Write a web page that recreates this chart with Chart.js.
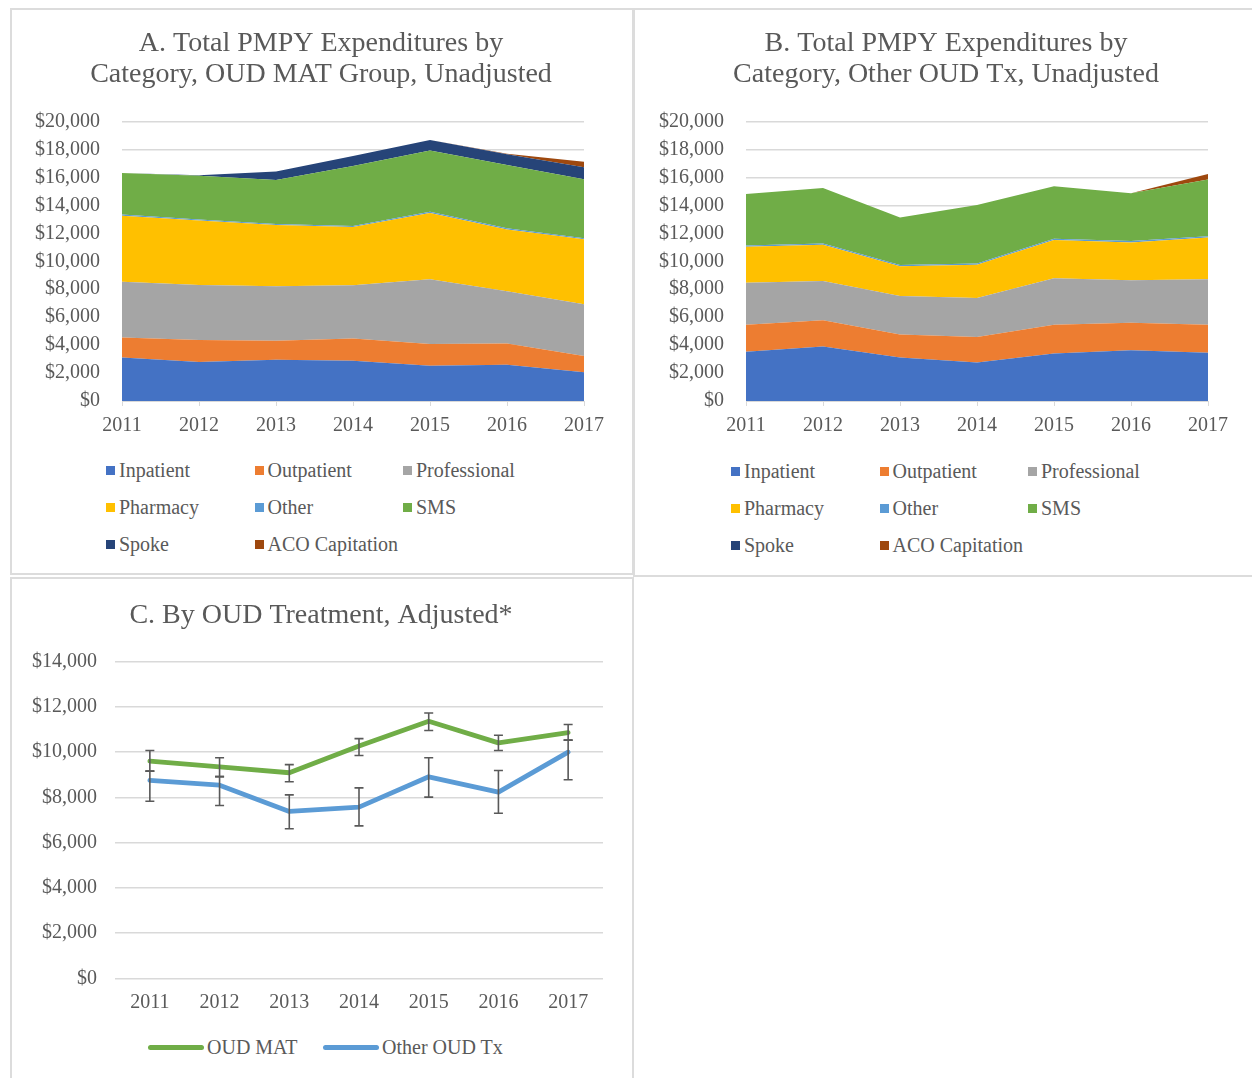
<!DOCTYPE html>
<html><head><meta charset="utf-8">
<script src="https://cdn.jsdelivr.net/npm/chart.js@4.4.1/dist/chart.umd.min.js"></script>
<style>
body{margin:0;background:#fff;width:1252px;height:1078px;overflow:hidden;position:relative;font-family:'Liberation Serif',serif;color:#595959}
.panel{position:absolute;border:2px solid #dcdcdc;box-sizing:border-box;background:#fff}
canvas{position:absolute}
.leg{position:absolute;font-size:20px;line-height:24px;height:24px;white-space:nowrap}
.sq{display:inline-block;width:9px;height:9px;margin-right:4px;vertical-align:middle;position:relative;top:-2px}
.ln{display:inline-block;width:56px;height:5px;border-radius:3px;margin-right:3px;vertical-align:middle;position:relative;top:-2px}
</style></head><body>
<div class="panel" style="left:10px;top:8px;width:624px;height:567px"></div>
<div class="panel" style="left:633px;top:8px;width:625px;height:569px"></div>
<div class="panel" style="left:10px;top:577px;width:624px;height:510px"></div>
<canvas id="cA" width="618" height="440" style="left:12px;top:10px"></canvas>
<canvas id="cB" width="618" height="440" style="left:637px;top:10px"></canvas>
<canvas id="cC" width="618" height="450" style="left:12px;top:579px"></canvas>
<div id="legA"></div><div id="legB"></div><div id="legC"></div>
<script>
// ---- data ----
const years = ['2011','2012','2013','2014','2015','2016','2017'];
const seriesNames = ['Inpatient','Outpatient','Professional','Pharmacy','Other','SMS','Spoke','ACO Capitation'];

const A_inpatient    = [3110, 2800, 2960, 2890, 2530, 2600, 2060];
const A_outpatient   = [1430, 1570, 1360, 1580, 1550, 1510, 1170];
const A_professional = [3990, 3940, 3900, 3820, 4640, 3750, 3700];
const A_pharmacy     = [4730, 4610, 4370, 4160, 4730, 4420, 4640];
const A_other        = [90, 80, 80, 80, 90, 80, 80];
const A_sms          = [2970, 3120, 3150, 4290, 4400, 4530, 4220];
const A_spoke        = [0, 40, 600, 720, 740, 770, 860];
const A_aco          = [0, 0, 0, 0, 0, 30, 400];

const B_inpatient    = [3520, 3900, 3120, 2760, 3400, 3640, 3450];
const B_outpatient   = [1930, 1880, 1640, 1830, 2050, 1970, 2000];
const B_professional = [3020, 2810, 2760, 2780, 3330, 3040, 3260];
const B_pharmacy     = [2570, 2590, 2120, 2380, 2740, 2690, 3000];
const B_other        = [90, 90, 90, 90, 90, 110, 90];
const B_sms          = [3690, 3980, 3410, 4190, 3760, 3430, 4050];
const B_spoke        = [0, 0, 0, 0, 0, 0, 0];
const B_aco          = [0, 0, 0, 0, 0, 0, 400];

const C_names     = ['OUD MAT','Other OUD Tx'];
const C_mat       = [9600, 9350, 9090, 10270, 11370, 10410, 10860];
const C_matHigh   = [10070, 9750, 9450, 10600, 11730, 10750, 11220];
const C_matLow    = [9160, 8920, 8690, 9850, 10960, 10070, 10530];
const C_other     = [8750, 8540, 7380, 7570, 8910, 8230, 10000];
const C_otherHigh = [9160, 8920, 8110, 8420, 9750, 9190, 10530];
const C_otherLow  = [7830, 7640, 6610, 6740, 8010, 7300, 8780];

// ---- styles ----
const colors = ['#4472C4','#ED7D31','#A5A5A5','#FFC000','#5B9BD5','#70AD47','#264478','#9E480E'];
const FONT = "'Liberation Serif', 'DejaVu Serif', serif";
const TXT = '#595959';
const GRID = '#d9d9d9';
const money = v => '$' + Number(v).toLocaleString('en-US');

// invisible right-side spacer axis (keeps the title centred on the panel)
function spacer(w){
  return { type: 'linear', position: 'right', display: true,
    grid: { display: false, drawTicks: false }, border: { display: false },
    ticks: { display: false }, afterFit: s => { s.width = w; } };
}

function areaDatasets(arrs){
  return arrs.map((d,i)=>({
    label: seriesNames[i], data: d,
    backgroundColor: colors[i], borderColor: colors[i], borderWidth: 0,
    pointRadius: 0, fill: i===0 ? 'origin' : '-1', tension: 0
  }));
}

function areaConfig(title, arrs, yW, rW){
  return {
    type: 'line',
    data: { labels: years, datasets: areaDatasets(arrs) },
    options: {
      responsive: false, animation: false,
      layout: { padding: { top: 18, left: 0, right: 0, bottom: 9 } },
      plugins: {
        legend: { display: false }, tooltip: { enabled: false },
        title: { display: true, text: title, color: TXT,
          font: { family: FONT, size: 28, weight: 'normal', lineHeight: 1.1 },
          padding: { top: 0, bottom: 32 } }
      },
      scales: {
        x: { offset: false,
          grid: { display: true, drawOnChartArea: false, drawTicks: true, tickLength: 5, color: GRID },
          border: { display: true, color: GRID, width: 1 },
          ticks: { color: TXT, font: { family: FONT, size: 20 }, padding: 8, maxRotation: 0 },
          afterFit: s => { s.height = 40; } },
        y: { stacked: true, min: 0, max: 20000,
          grid: { color: GRID, lineWidth: 1.5, drawTicks: false },
          border: { display: false },
          ticks: { stepSize: 2000, color: TXT, font: { family: FONT, size: 20 }, padding: 22, callback: money },
          afterFit: s => { s.width = yW; } },
        yr: spacer(rW)
      }
    }
  };
}

const chartA = new Chart(document.getElementById('cA'), areaConfig(
  ['A. Total PMPY Expenditures by','Category, OUD MAT Group, Unadjusted'],
  [A_inpatient, A_outpatient, A_professional, A_pharmacy, A_other, A_sms, A_spoke, A_aco], 110, 46));
const chartB = new Chart(document.getElementById('cB'), areaConfig(
  ['B. Total PMPY Expenditures by','Category, Other OUD Tx, Unadjusted'],
  [B_inpatient, B_outpatient, B_professional, B_pharmacy, B_other, B_sms, B_spoke, B_aco], 109, 47));

const errorBars = {
  id: 'errorBars',
  afterDatasetsDraw(chart){
    const {ctx, scales:{x, y}} = chart;
    ctx.save(); ctx.strokeStyle = '#595959'; ctx.lineWidth = 1.6;
    chart.data.datasets.forEach(ds => {
      if (!ds.errHigh) return;
      ds.data.forEach((v, i) => {
        const px = x.getPixelForValue(i);
        const yh = y.getPixelForValue(ds.errHigh[i]), yl = y.getPixelForValue(ds.errLow[i]);
        ctx.beginPath();
        ctx.moveTo(px, yh); ctx.lineTo(px, yl);
        ctx.moveTo(px-4.5, yh); ctx.lineTo(px+4.5, yh);
        ctx.moveTo(px-4.5, yl); ctx.lineTo(px+4.5, yl);
        ctx.stroke();
      });
    });
    ctx.restore();
  }
};

const chartC = new Chart(document.getElementById('cC'), {
  type: 'line',
  data: { labels: years, datasets: [
    { label: C_names[0], data: C_mat, errHigh: C_matHigh, errLow: C_matLow,
      borderColor: '#70AD47', backgroundColor: '#70AD47', borderWidth: 4.8, pointRadius: 0,
      borderCapStyle: 'round', borderJoinStyle: 'round', tension: 0, fill: false },
    { label: C_names[1], data: C_other, errHigh: C_otherHigh, errLow: C_otherLow,
      borderColor: '#5B9BD5', backgroundColor: '#5B9BD5', borderWidth: 4.8, pointRadius: 0,
      borderCapStyle: 'round', borderJoinStyle: 'round', tension: 0, fill: false }
  ]},
  plugins: [errorBars],
  options: {
    responsive: false, animation: false,
    layout: { padding: { top: 21.6, left: 0, right: 0, bottom: 10.7 } },
    plugins: {
      legend: { display: false }, tooltip: { enabled: false },
      title: { display: true, text: 'C. By OUD Treatment, Adjusted*', color: TXT,
        font: { family: FONT, size: 28, weight: 'normal', lineHeight: 1.1 },
        padding: { top: 0, bottom: 30.3 } }
    },
    scales: {
      x: { offset: true, grid: { display: false }, border: { display: false },
        ticks: { color: TXT, font: { family: FONT, size: 20 }, padding: 4, maxRotation: 0 },
        afterFit: s => { s.height = 40; } },
      y: { min: 0, max: 14000,
        grid: { color: GRID, lineWidth: 1.5, drawTicks: false },
        border: { display: false },
        ticks: { stepSize: 2000, color: TXT, font: { family: FONT, size: 20 }, padding: 18, callback: money },
        afterFit: s => { s.width = 103; } },
      yr: spacer(27)
    }
  }
});

// ---- HTML legends built from the chart datasets ----
function squareLegend(chart, el, left0, top0){
  chart.data.datasets.forEach((ds, i) => {
    const d = document.createElement('div');
    d.className = 'leg';
    d.style.left = (left0 + (i % 3) * 148.5) + 'px';
    d.style.top = (top0 + Math.floor(i / 3) * 37) + 'px';
    d.innerHTML = '<span class="sq" style="background:' + ds.backgroundColor + '"></span>' + ds.label;
    el.appendChild(d);
  });
}
squareLegend(chartA, document.getElementById('legA'), 106, 458);
squareLegend(chartB, document.getElementById('legB'), 731, 459);

const legC = document.getElementById('legC');
const cLefts = [148, 323];
chartC.data.datasets.forEach((ds, i) => {
  const d = document.createElement('div');
  d.className = 'leg';
  d.style.left = cLefts[i] + 'px';
  d.style.top = '1035px';
  d.innerHTML = '<span class="ln" style="background:' + ds.borderColor + '"></span>' + ds.label;
  legC.appendChild(d);
});
</script>
</body></html>
